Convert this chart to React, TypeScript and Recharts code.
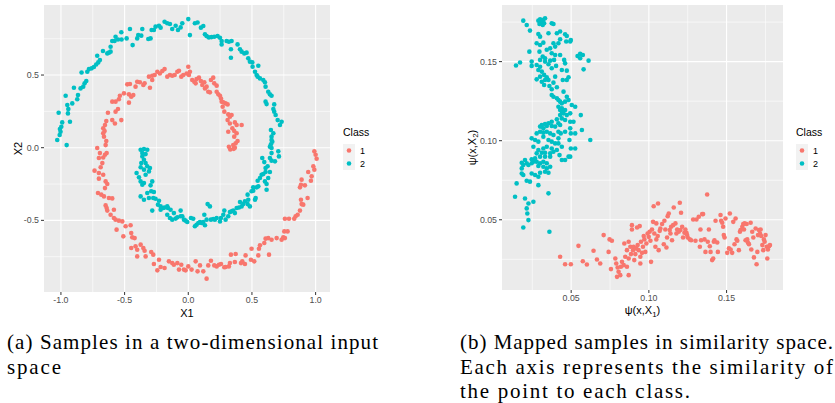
import React from "react";
import { CartesianGrid, Scatter, ScatterChart, XAxis, YAxis } from "recharts";

// (a) two spirals in the input space, [X1, X2]
const inputClass1: [number, number][] = [
  [-0.649, 0.018], [-0.644, 0.046], [-0.662, 0.076], [-0.668, 0.099], [-0.657, 0.115], [-0.668, 0.133], [-0.654, 0.156],
  [-0.644, 0.183], [-0.597, 0.19], [-0.576, 0.167], [-0.526, 0.19], [-0.631, 0.241], [-0.571, 0.248], [-0.552, 0.266],
  [-0.597, 0.317], [-0.571, 0.317], [-0.545, 0.333], [-0.537, 0.358], [-0.505, 0.374], [-0.466, 0.367], [-0.466, 0.31],
  [-0.448, 0.351], [-0.432, 0.362], [-0.479, 0.436], [-0.458, 0.438], [-0.414, 0.42], [-0.401, 0.454], [-0.38, 0.45],
  [-0.353, 0.431], [-0.343, 0.443], [-0.301, 0.413], [-0.283, 0.466], [-0.309, 0.489], [-0.283, 0.495], [-0.264, 0.5],
  [-0.243, 0.523], [-0.223, 0.511], [-0.204, 0.528], [-0.186, 0.541], [-0.165, 0.489], [-0.144, 0.5], [-0.126, 0.495],
  [-0.107, 0.5], [-0.086, 0.523], [-0.073, 0.53], [-0.055, 0.489], [-0.039, 0.5], [-0.013, 0.511],
  [0.0, 0.557], [0.013, 0.523], [0.005, 0.5], [0.031, 0.466], [0.047, 0.454], [0.058, 0.443], [0.065, 0.472],
  [0.084, 0.482], [0.099, 0.459], [0.11, 0.431], [0.126, 0.45], [0.131, 0.408], [0.144, 0.42], [0.157, 0.385],
  [0.17, 0.381], [0.178, 0.466], [0.196, 0.482], [0.204, 0.443], [0.223, 0.427], [0.223, 0.385], [0.236, 0.367],
  [0.249, 0.358], [0.257, 0.339], [0.262, 0.317], [0.275, 0.312], [0.293, 0.305], [0.309, 0.298], [0.27, 0.282],
  [0.283, 0.248], [0.314, 0.229], [0.327, 0.213], [0.34, 0.225], [0.309, 0.19], [0.327, 0.167], [0.366, 0.174],
  [0.38, 0.156], [0.419, 0.156], [0.346, 0.133], [0.361, 0.115], [0.314, 0.11], [0.38, 0.099], [0.361, 0.076],
  [0.387, 0.046], [0.372, 0.03], [0.353, 0.018], [0.319, 0.007], [0.366, 0.0], [0.33, -0.012], [0.357, -0.008],
  [-0.715, -0.002], [-0.694, -0.037], [-0.702, -0.071], [-0.668, -0.067], [-0.654, -0.048], [-0.641, -0.037],
  [-0.675, -0.106], [-0.688, -0.135], [-0.736, -0.158], [-0.702, -0.174], [-0.668, -0.186], [-0.702, -0.213],
  [-0.649, -0.232], [-0.636, -0.25], [-0.654, -0.278], [-0.709, -0.312], [-0.683, -0.323], [-0.662, -0.335],
  [-0.623, -0.346], [-0.597, -0.349], [-0.649, -0.397], [-0.641, -0.415], [-0.636, -0.433], [-0.584, -0.427],
  [-0.61, -0.461], [-0.584, -0.484], [-0.571, -0.495], [-0.545, -0.502], [-0.518, -0.507], [-0.563, -0.564],
  [-0.492, -0.541], [-0.453, -0.534], [-0.51, -0.61], [-0.448, -0.587], [-0.44, -0.617], [-0.421, -0.622],
  [-0.414, -0.679], [-0.448, -0.69], [-0.401, -0.702], [-0.374, -0.667], [-0.353, -0.69], [-0.343, -0.709],
  [-0.401, -0.748], [-0.335, -0.748], [-0.291, -0.718], [-0.275, -0.736], [-0.27, -0.8], [-0.23, -0.771],
  [-0.243, -0.844], [-0.217, -0.821], [-0.186, -0.828], [-0.152, -0.782], [-0.126, -0.794], [-0.113, -0.805],
  [-0.086, -0.794], [-0.055, -0.805], [-0.073, -0.839], [-0.034, -0.839], [-0.021, -0.844],
  [0.0, -0.817], [0.026, -0.839], [0.058, -0.782], [0.073, -0.851], [0.092, -0.81], [0.118, -0.851], [0.144, -0.901],
  [0.157, -0.81], [0.178, -0.778], [0.204, -0.81], [0.223, -0.817], [0.241, -0.805], [0.257, -0.8], [0.283, -0.823],
  [0.293, -0.821], [0.319, -0.817], [0.327, -0.794], [0.335, -0.736], [0.372, -0.732], [0.366, -0.787], [0.414, -0.794],
  [0.424, -0.782], [0.445, -0.8], [0.45, -0.741], [0.497, -0.695], [0.492, -0.771], [0.518, -0.782], [0.55, -0.741],
  [0.555, -0.695], [0.563, -0.672], [0.597, -0.656], [0.607, -0.626], [0.628, -0.622], [0.634, -0.736], [0.654, -0.633],
  [0.694, -0.622], [0.733, -0.633], [0.746, -0.617], [0.759, -0.622], [0.754, -0.576], [0.78, -0.576], [0.759, -0.489],
  [0.791, -0.489], [0.832, -0.489], [0.843, -0.472], [0.859, -0.461], [0.877, -0.433], [0.89, -0.388], [0.903, -0.392],
  [0.885, -0.358], [0.937, -0.346], [0.877, -0.273], [0.885, -0.255], [0.916, -0.259], [0.89, -0.22], [0.942, -0.167],
  [0.963, -0.227], [0.969, -0.197], [0.99, -0.151], [0.982, -0.128], [1.008, -0.076], [1.0, -0.048], [0.99, -0.025],
];

const inputClass2: [number, number][] = [
  [-1.029, 0.053], [-1.01, 0.087], [-1.003, 0.11], [-1.008, 0.128], [-0.997, 0.144], [-0.99, 0.174], [-1.018, 0.241],
  [-0.929, 0.179], [-0.955, 0.018], [-0.945, 0.236], [-0.942, 0.266], [-0.95, 0.294], [-0.963, 0.358], [-0.911, 0.305],
  [-0.898, 0.413], [-0.872, 0.333], [-0.866, 0.362], [-0.846, 0.408], [-0.825, 0.42], [-0.814, 0.443], [-0.801, 0.459],
  [-0.838, 0.518], [-0.793, 0.523], [-0.78, 0.541], [-0.759, 0.546], [-0.741, 0.555], [-0.723, 0.573], [-0.707, 0.587],
  [-0.715, 0.633], [-0.694, 0.603], [-0.67, 0.665], [-0.636, 0.649], [-0.623, 0.654], [-0.61, 0.661], [-0.61, 0.695],
  [-0.597, 0.734], [-0.579, 0.734], [-0.571, 0.764], [-0.552, 0.745], [-0.526, 0.794], [-0.524, 0.745], [-0.484, 0.752],
  [-0.458, 0.817], [-0.437, 0.706], [-0.401, 0.752], [-0.393, 0.775], [-0.369, 0.771], [-0.361, 0.817], [-0.314, 0.748],
  [-0.296, 0.752], [-0.288, 0.81], [-0.27, 0.81], [-0.257, 0.833], [-0.23, 0.839], [-0.217, 0.826], [-0.186, 0.867],
  [-0.165, 0.856], [-0.144, 0.851], [-0.126, 0.817], [-0.099, 0.839], [-0.081, 0.81], [-0.06, 0.828], [-0.047, 0.856],
  [0.0, 0.885], [0.052, 0.856], [0.073, 0.862], [0.099, 0.826], [0.118, 0.837], [0.013, 0.775], [0.131, 0.78],
  [0.144, 0.768], [0.162, 0.759], [0.183, 0.761], [0.204, 0.764], [0.23, 0.768], [0.249, 0.757], [0.262, 0.734],
  [0.262, 0.711], [0.301, 0.734], [0.319, 0.729], [0.34, 0.734], [0.335, 0.677], [0.335, 0.619], [0.387, 0.711],
  [0.406, 0.677], [0.419, 0.661], [0.44, 0.649], [0.458, 0.654], [0.471, 0.615], [0.484, 0.592], [0.503, 0.587],
  [0.505, 0.557], [0.55, 0.564], [0.524, 0.523], [0.537, 0.5], [0.545, 0.489], [0.563, 0.477], [0.589, 0.466],
  [0.602, 0.45], [0.607, 0.42], [0.628, 0.385], [0.641, 0.367], [0.654, 0.358], [0.607, 0.317], [0.615, 0.3],
  [0.675, 0.298], [0.668, 0.266], [0.675, 0.248], [0.686, 0.225], [0.702, 0.19], [0.733, 0.179], [0.72, 0.156],
  [0.649, 0.122], [0.668, 0.099], [0.654, 0.076], [0.654, 0.053], [0.66, 0.041], [0.649, 0.023], [0.641, 0.007],
  [-0.374, -0.014], [-0.348, -0.009], [-0.322, -0.014], [-0.361, -0.037], [-0.335, -0.044], [-0.361, -0.06],
  [-0.348, -0.083], [-0.369, -0.106], [-0.335, -0.106], [-0.322, -0.128], [-0.374, -0.135], [-0.301, -0.14],
  [-0.348, -0.151], [-0.309, -0.163], [-0.406, -0.174], [-0.387, -0.204], [-0.335, -0.186], [-0.374, -0.232],
  [-0.348, -0.243], [-0.361, -0.255], [-0.283, -0.232], [-0.296, -0.259], [-0.291, -0.3], [-0.27, -0.305],
  [-0.322, -0.312], [-0.374, -0.335], [-0.348, -0.358], [-0.309, -0.346], [-0.275, -0.346], [-0.257, -0.351],
  [-0.23, -0.365], [-0.238, -0.392], [-0.217, -0.404], [-0.283, -0.433], [-0.196, -0.415], [-0.186, -0.411],
  [-0.165, -0.404], [-0.16, -0.415], [-0.217, -0.427], [-0.139, -0.427], [-0.113, -0.45], [-0.06, -0.433],
  [-0.165, -0.461], [-0.144, -0.484], [-0.126, -0.495], [-0.099, -0.488], [-0.086, -0.479], [-0.06, -0.472],
  [-0.047, -0.472], [-0.034, -0.495], [-0.021, -0.502], [-0.008, -0.511],
  [0.021, -0.484], [0.039, -0.489], [0.052, -0.541], [0.065, -0.53], [0.079, -0.518], [0.092, -0.511], [0.105, -0.518],
  [0.118, -0.511], [0.131, -0.534], [0.126, -0.461], [0.144, -0.495], [0.152, -0.388], [0.17, -0.404], [0.178, -0.495],
  [0.196, -0.491], [0.209, -0.495], [0.223, -0.484], [0.249, -0.507], [0.257, -0.484], [0.275, -0.461], [0.283, -0.433],
  [0.293, -0.495], [0.314, -0.472], [0.327, -0.443], [0.34, -0.438], [0.353, -0.433], [0.366, -0.45], [0.38, -0.415],
  [0.398, -0.411], [0.406, -0.374], [0.419, -0.404], [0.432, -0.388], [0.445, -0.369], [0.466, -0.388], [0.484, -0.404],
  [0.471, -0.358], [0.466, -0.323], [0.497, -0.3], [0.51, -0.296], [0.524, -0.358], [0.529, -0.346], [0.51, -0.273],
  [0.537, -0.273], [0.55, -0.266], [0.545, -0.227], [0.563, -0.209], [0.576, -0.186], [0.589, -0.181], [0.607, -0.167],
  [0.615, -0.25], [0.615, -0.289], [0.602, -0.232], [0.628, -0.209], [0.607, -0.14], [0.623, -0.128], [0.641, -0.167],
  [0.654, -0.089], [0.681, -0.094], [0.641, -0.071], [0.581, -0.071], [0.597, -0.099], [0.654, -0.037], [0.654, -0.002],
  [0.707, -0.025], [0.712, -0.06],
];

// (b) the same samples mapped to similarity space, [psi(x,X1), psi(x,X2)]
const simClass1: [number, number][] = [
  [0.0429, 0.0266], [0.0461, 0.0219], [0.0498, 0.0219], [0.0547, 0.0335], [0.0575, 0.0238], [0.0601, 0.0217],
  [0.0644, 0.0304], [0.0666, 0.0249], [0.0687, 0.0224], [0.0709, 0.0403], [0.0741, 0.0297], [0.0747, 0.0376],
  [0.0762, 0.0367], [0.0756, 0.0188], [0.0784, 0.0255], [0.079, 0.0224], [0.0799, 0.0198], [0.0805, 0.0171],
  [0.0795, 0.0139], [0.0816, 0.015], [0.082, 0.0203], [0.0838, 0.0213], [0.0827, 0.0234], [0.0848, 0.0266],
  [0.0842, 0.035], [0.0859, 0.0308], [0.087, 0.0361], [0.0881, 0.0329], [0.087, 0.015], [0.0859, 0.0203],
  [0.087, 0.0255], [0.0885, 0.0283], [0.0891, 0.0439], [0.0891, 0.0466], [0.0898, 0.0308], [0.0902, 0.0329],
  [0.0906, 0.0245], [0.0913, 0.0283], [0.0919, 0.0319], [0.0924, 0.0451], [0.0928, 0.034], [0.0934, 0.0308],
  [0.0941, 0.046], [0.0945, 0.0266], [0.0945, 0.0224], [0.0949, 0.0361], [0.0956, 0.0291], [0.0962, 0.0329],
  [0.0967, 0.0397], [0.0971, 0.0376], [0.0977, 0.0297], [0.0984, 0.035], [0.0992, 0.0413], [0.0999, 0.0392],
  [0.1005, 0.0424], [0.101, 0.0367], [0.102, 0.0439], [0.1014, 0.0234], [0.1027, 0.0487], [0.1031, 0.0586],
  [0.1035, 0.0413], [0.1042, 0.0329], [0.1048, 0.0477], [0.1048, 0.0376], [0.1057, 0.0397], [0.1059, 0.0603],
  [0.1063, 0.0308], [0.107, 0.043], [0.1074, 0.0445], [0.1085, 0.0473], [0.1096, 0.0345], [0.11, 0.0494],
  [0.1106, 0.0439], [0.1113, 0.0325], [0.1117, 0.0388], [0.1121, 0.0523], [0.1128, 0.054], [0.1134, 0.0435],
  [0.1139, 0.0413], [0.1143, 0.0456], [0.1149, 0.0371], [0.1156, 0.0466], [0.116, 0.0578], [0.1171, 0.0477],
  [0.1177, 0.0413], [0.1182, 0.0439], [0.1192, 0.0424], [0.1199, 0.0608], [0.1203, 0.0435], [0.1207, 0.0544],
  [0.1214, 0.0456], [0.122, 0.0388], [0.1229, 0.0418], [0.1235, 0.0439], [0.1242, 0.0418], [0.1246, 0.0403],
  [0.125, 0.0388], [0.1263, 0.0376], [0.1272, 0.0371], [0.1285, 0.0502], [0.13, 0.0367], [0.1306, 0.0502],
  [0.1321, 0.0519], [0.1328, 0.0329], [0.1332, 0.0439], [0.1336, 0.0371], [0.1343, 0.0536], [0.1349, 0.0536],
  [0.1358, 0.0376], [0.1364, 0.0297], [0.1375, 0.066], [0.1379, 0.0361], [0.1386, 0.0439], [0.1392, 0.0333],
  [0.1397, 0.0297], [0.1407, 0.0245], [0.1414, 0.0255], [0.1418, 0.0361], [0.1422, 0.0371], [0.1429, 0.0494],
  [0.144, 0.0356], [0.1444, 0.0297], [0.1461, 0.053], [0.1465, 0.0494], [0.1472, 0.0481], [0.1478, 0.0456],
  [0.1482, 0.0403], [0.1487, 0.0388], [0.1493, 0.0508], [0.1504, 0.0291], [0.1515, 0.0319], [0.1521, 0.054],
  [0.1526, 0.0312], [0.1536, 0.0291], [0.1543, 0.0487], [0.1551, 0.0345], [0.1558, 0.0508], [0.1564, 0.0376],
  [0.1569, 0.0367], [0.1579, 0.0308], [0.1586, 0.0424], [0.159, 0.0435], [0.1601, 0.0456], [0.1607, 0.0473],
  [0.1612, 0.0439], [0.1616, 0.0477], [0.1622, 0.0371], [0.1629, 0.0473], [0.1633, 0.0376], [0.1637, 0.0356],
  [0.1644, 0.0346], [0.1655, 0.0481], [0.1659, 0.0312], [0.1665, 0.0424], [0.1672, 0.0388], [0.1676, 0.0262],
  [0.1687, 0.0445], [0.1693, 0.0219], [0.1698, 0.0297], [0.1702, 0.0403], [0.1708, 0.0435], [0.1715, 0.0413],
  [0.1719, 0.0439], [0.1723, 0.0397], [0.173, 0.034], [0.1736, 0.0308], [0.174, 0.0376], [0.1745, 0.0361],
  [0.1751, 0.0403], [0.1758, 0.0329], [0.1762, 0.0255], [0.1766, 0.0312], [0.1773, 0.0333], [0.1779, 0.034],
];

const simClass2: [number, number][] = [
  [0.0192, 0.1759], [0.0214, 0.1732], [0.0235, 0.1696], [0.0289, 0.1759], [0.03, 0.1768], [0.0311, 0.1753],
  [0.0321, 0.1764], [0.0332, 0.1774], [0.0296, 0.1738], [0.0317, 0.1732], [0.0326, 0.1743], [0.0375, 0.1743],
  [0.0386, 0.1738], [0.0289, 0.1675], [0.03, 0.1658], [0.0354, 0.1679], [0.0408, 0.1679], [0.0429, 0.169],
  [0.0461, 0.1673], [0.0472, 0.1662], [0.0498, 0.1637], [0.0494, 0.1627], [0.0468, 0.1627], [0.0429, 0.1641],
  [0.0386, 0.1616], [0.0397, 0.1595], [0.0418, 0.1616], [0.0278, 0.1616], [0.03, 0.1605], [0.0321, 0.162],
  [0.0365, 0.1584], [0.0343, 0.1575], [0.0296, 0.1563], [0.0317, 0.1532], [0.0332, 0.1521], [0.0375, 0.1553],
  [0.0397, 0.1542], [0.0231, 0.1563], [0.0246, 0.15], [0.03, 0.1511], [0.0332, 0.15], [0.0365, 0.1506],
  [0.039, 0.1511], [0.0429, 0.1542], [0.0455, 0.1511], [0.0461, 0.1489], [0.0541, 0.1536], [0.0558, 0.1549],
  [0.0575, 0.1542], [0.0558, 0.1521], [0.0612, 0.1506], [0.058, 0.1451], [0.0145, 0.1475], [0.0171, 0.1494],
  [0.0246, 0.1473], [0.0278, 0.1479], [0.03, 0.1468], [0.0354, 0.1483], [0.0375, 0.1458], [0.0403, 0.1473],
  [0.044, 0.1447], [0.0472, 0.1443], [0.0483, 0.1401], [0.0289, 0.1447], [0.0311, 0.1437], [0.0326, 0.1416],
  [0.0343, 0.1401], [0.03, 0.1405], [0.0278, 0.1388], [0.0311, 0.1373], [0.0332, 0.1384], [0.0354, 0.1384],
  [0.0397, 0.1405], [0.0386, 0.1367], [0.0446, 0.1384], [0.0472, 0.1384], [0.0326, 0.1352], [0.036, 0.1346],
  [0.0375, 0.1325], [0.0408, 0.1338], [0.0451, 0.131], [0.0472, 0.1278], [0.0375, 0.1289], [0.0386, 0.1278],
  [0.0408, 0.1268], [0.0418, 0.1257], [0.0429, 0.1247], [0.044, 0.1236], [0.0461, 0.1247], [0.0483, 0.1257],
  [0.0418, 0.1215], [0.044, 0.1205], [0.044, 0.1184], [0.0429, 0.1194], [0.0451, 0.1173], [0.0461, 0.1194],
  [0.0472, 0.1162], [0.0429, 0.1162], [0.0504, 0.1226], [0.0526, 0.1215], [0.0494, 0.1173], [0.0562, 0.1162],
  [0.0515, 0.112], [0.0494, 0.112], [0.0461, 0.1131], [0.044, 0.1141], [0.0408, 0.1135], [0.0375, 0.112],
  [0.0354, 0.111], [0.0332, 0.1105], [0.0311, 0.1099], [0.03, 0.1089], [0.0321, 0.1078], [0.0343, 0.1093],
  [0.0375, 0.1093], [0.0397, 0.1089], [0.0418, 0.111], [0.0429, 0.1099], [0.03, 0.1057], [0.0278, 0.1046],
  [0.0321, 0.1051], [0.0343, 0.1057], [0.0365, 0.1046], [0.0386, 0.1036], [0.0418, 0.1057], [0.0433, 0.1046],
  [0.0418, 0.1015], [0.0569, 0.1068], [0.0498, 0.1046], [0.0246, 0.1015], [0.0268, 0.1004], [0.0289, 0.0994],
  [0.0321, 0.1025], [0.0354, 0.1004], [0.0375, 0.0994], [0.0397, 0.0983], [0.0418, 0.0983], [0.044, 0.0962],
  [0.0375, 0.0951], [0.0343, 0.0962], [0.0321, 0.0951], [0.0257, 0.0962], [0.0289, 0.0941], [0.0278, 0.092],
  [0.0311, 0.0924], [0.0332, 0.0924], [0.0365, 0.092], [0.0386, 0.093], [0.0408, 0.0941], [0.0425, 0.0909],
  [0.0365, 0.0899], [0.0332, 0.0899], [0.03, 0.0899], [0.0268, 0.0888], [0.0246, 0.0882], [0.0203, 0.0878],
  [0.0182, 0.0861], [0.0192, 0.0846], [0.0214, 0.0857], [0.0225, 0.0846], [0.0246, 0.0857], [0.0257, 0.0867],
  [0.0278, 0.0867], [0.03, 0.0857], [0.0321, 0.0867], [0.0343, 0.0857], [0.0289, 0.084], [0.0321, 0.0835],
  [0.0343, 0.0825], [0.0365, 0.0835], [0.0332, 0.0804], [0.0354, 0.0797], [0.03, 0.0797], [0.0268, 0.0783],
  [0.0246, 0.0793], [0.0182, 0.0825], [0.0182, 0.0793], [0.0192, 0.0783], [0.0214, 0.0747], [0.0235, 0.0741],
  [0.0289, 0.0772], [0.0289, 0.0719], [0.0149, 0.073], [0.0483, 0.0899], [0.0461, 0.0878], [0.0494, 0.0899],
  [0.044, 0.0878], [0.0498, 0.0951], [0.0526, 0.0951], [0.0623, 0.1004], [0.0526, 0.1046], [0.0489, 0.1004],
  [0.0494, 0.1078], [0.0461, 0.1057], [0.0139, 0.0646], [0.0203, 0.0635], [0.0257, 0.0614], [0.0225, 0.0603],
  [0.0354, 0.0667], [0.0214, 0.0572], [0.0218, 0.054], [0.0225, 0.0498], [0.0192, 0.0451], [0.036, 0.0424],
];

const classes = ["1", "2"];
const inputXTicks = [-1, -0.5, 0, 0.5, 1];
const inputXMinor = [-0.75, -0.25, 0.25, 0.75];
const inputYTicks = [-0.5, 0, 0.5];
const inputYMinor = [-0.75, -0.25, 0.25, 0.75];
const simTicks = [0.05, 0.1, 0.15];
const simMinor = [0.025, 0.075, 0.125, 0.175];

const COLORS = ["#F8766D", "#00BFC4"];
const SANS = "'Liberation Sans', Arial, Helvetica, sans-serif";
const SERIF = "'Liberation Serif', 'Times New Roman', serif";

const toPoints = (rows: [number, number][]) => rows.map(([x, y]) => ({ x, y }));

const dot = (color: string) => (p: any) => <circle cx={p.cx} cy={p.cy} r={2.3} fill={color} />;

const xTitle = (content: React.ReactNode, lift: number) => (props: any) => {
  const { x, y, width, height } = props.viewBox;
  return (
    <text x={x + width / 2} y={y + height - lift} textAnchor="middle" fontSize={11} fill="#000">
      {content}
    </text>
  );
};

const yTitle = (content: React.ReactNode, dx: number) => (props: any) => {
  const { x, y, height } = props.viewBox;
  const cx = x + dx;
  const cy = y + height / 2;
  return (
    <text
      x={cx}
      y={cy}
      transform={`rotate(-90 ${cx} ${cy})`}
      textAnchor="middle"
      dominantBaseline="central"
      fontSize={11}
      fill="#000"
    >
      {content}
    </text>
  );
};

const psi = (sub: string) => (
  <>
    ψ(x,X
    <tspan fontSize={8} dy={3}>
      {sub}
    </tspan>
    <tspan dy={-3}>)</tspan>
  </>
);

function ClassLegend({ left }: { left: number }) {
  return (
    <div style={{ position: "absolute", left, top: 125, fontFamily: SANS, color: "#000" }}>
      <div style={{ fontSize: 10.5, lineHeight: "14px", height: 19 }}>Class</div>
      {classes.map((c, i) => (
        <div key={c} style={{ display: "flex", alignItems: "center", height: 13 }}>
          <svg width={12} height={13} style={{ display: "block" }}>
            <rect width={12} height={13} fill="#F2F2F2" />
            <circle cx={6} cy={6.5} r={2.3} fill={COLORS[i]} />
          </svg>
          <span style={{ fontSize: 9, marginLeft: 5 }}>{c}</span>
        </div>
      ))}
    </div>
  );
}

const tickStyle = { fill: "#4D4D4D", fontSize: 8.8 };

export default function App() {
  return (
    <div
      style={{
        position: "absolute",
        left: 0,
        top: 0,
        width: 835,
        height: 403,
        background: "#fff",
        fontFamily: SANS,
        overflow: "hidden",
      }}
    >
      <div style={{ position: "absolute", left: 0, top: 0 }}>
        <ScatterChart width={420} height={320} margin={{ top: 5, right: 90, bottom: 0, left: 0 }}>
          <CartesianGrid fill="#EBEBEB" stroke="#FFFFFF" strokeWidth={0.6} verticalValues={inputXMinor} horizontalValues={inputYMinor} />
          <CartesianGrid stroke="#FFFFFF" strokeWidth={1.1} verticalValues={inputXTicks} horizontalValues={inputYTicks} />
          <XAxis
            type="number"
            dataKey="x"
            domain={[-1.133, 1.113]}
            ticks={inputXTicks}
            allowDataOverflow
            tickFormatter={(v: number) => v.toFixed(1)}
            axisLine={false}
            tickLine={{ stroke: "#333333" }}
            tickSize={3}
            tick={tickStyle}
            height={28}
            label={xTitle("X1", 3)}
          />
          <YAxis
            type="number"
            dataKey="y"
            domain={[-0.993, 0.982]}
            ticks={inputYTicks}
            allowDataOverflow
            tickFormatter={(v: number) => v.toFixed(1)}
            axisLine={false}
            tickLine={{ stroke: "#333333" }}
            tickSize={3}
            tick={tickStyle}
            width={44}
            label={yTitle("X2", 18)}
          />
          <Scatter data={toPoints(inputClass1)} shape={dot(COLORS[0])} isAnimationActive={false} />
          <Scatter data={toPoints(inputClass2)} shape={dot(COLORS[1])} isAnimationActive={false} />
        </ScatterChart>
        <ClassLegend left={343} />
      </div>

      <div style={{ position: "absolute", left: 420, top: 0, width: 415, height: 320 }}>
        <ScatterChart width={415} height={320} margin={{ top: 5, right: 52, bottom: 0, left: 0 }}>
          <CartesianGrid fill="#EBEBEB" stroke="#FFFFFF" strokeWidth={0.6} verticalValues={simMinor} horizontalValues={simMinor} />
          <CartesianGrid stroke="#FFFFFF" strokeWidth={1.1} verticalValues={simTicks} horizontalValues={simTicks} />
          <XAxis
            type="number"
            dataKey="x"
            domain={[0.0055, 0.1863]}
            ticks={simTicks}
            allowDataOverflow
            tickFormatter={(v: number) => v.toFixed(2)}
            axisLine={false}
            tickLine={{ stroke: "#333333" }}
            tickSize={3}
            tick={tickStyle}
            height={30}
            label={xTitle(psi("1"), 6)}
          />
          <YAxis
            type="number"
            dataKey="y"
            domain={[0.0056, 0.1858]}
            ticks={simTicks}
            allowDataOverflow
            tickFormatter={(v: number) => v.toFixed(2)}
            axisLine={false}
            tickLine={{ stroke: "#333333" }}
            tickSize={3}
            tick={tickStyle}
            width={82}
            label={yTitle(psi("2"), 52)}
          />
          <Scatter data={toPoints(simClass1)} shape={dot(COLORS[0])} isAnimationActive={false} />
          <Scatter data={toPoints(simClass2)} shape={dot(COLORS[1])} isAnimationActive={false} />
        </ScatterChart>
        <ClassLegend left={376} />
      </div>

      <svg
        width={835}
        height={83}
        style={{ position: "absolute", left: 0, top: 320, fontFamily: SERIF, fontSize: 21 }}
        fill="#000"
      >
        <text x={7} y={29} textLength={371} lengthAdjust="spacing">
          (a) Samples in a two-dimensional input
        </text>
        <text x={7} y={53.5} textLength={54} lengthAdjust="spacing">
          space
        </text>
        <text x={460} y={29} textLength={373} lengthAdjust="spacing">
          (b) Mapped samples in similarity space.
        </text>
        <text x={460} y={53.5} textLength={373} lengthAdjust="spacing">
          Each axis represents the similarity of
        </text>
        <text x={460} y={78} textLength={230} lengthAdjust="spacing">
          the point to each class.
        </text>
      </svg>
    </div>
  );
}
